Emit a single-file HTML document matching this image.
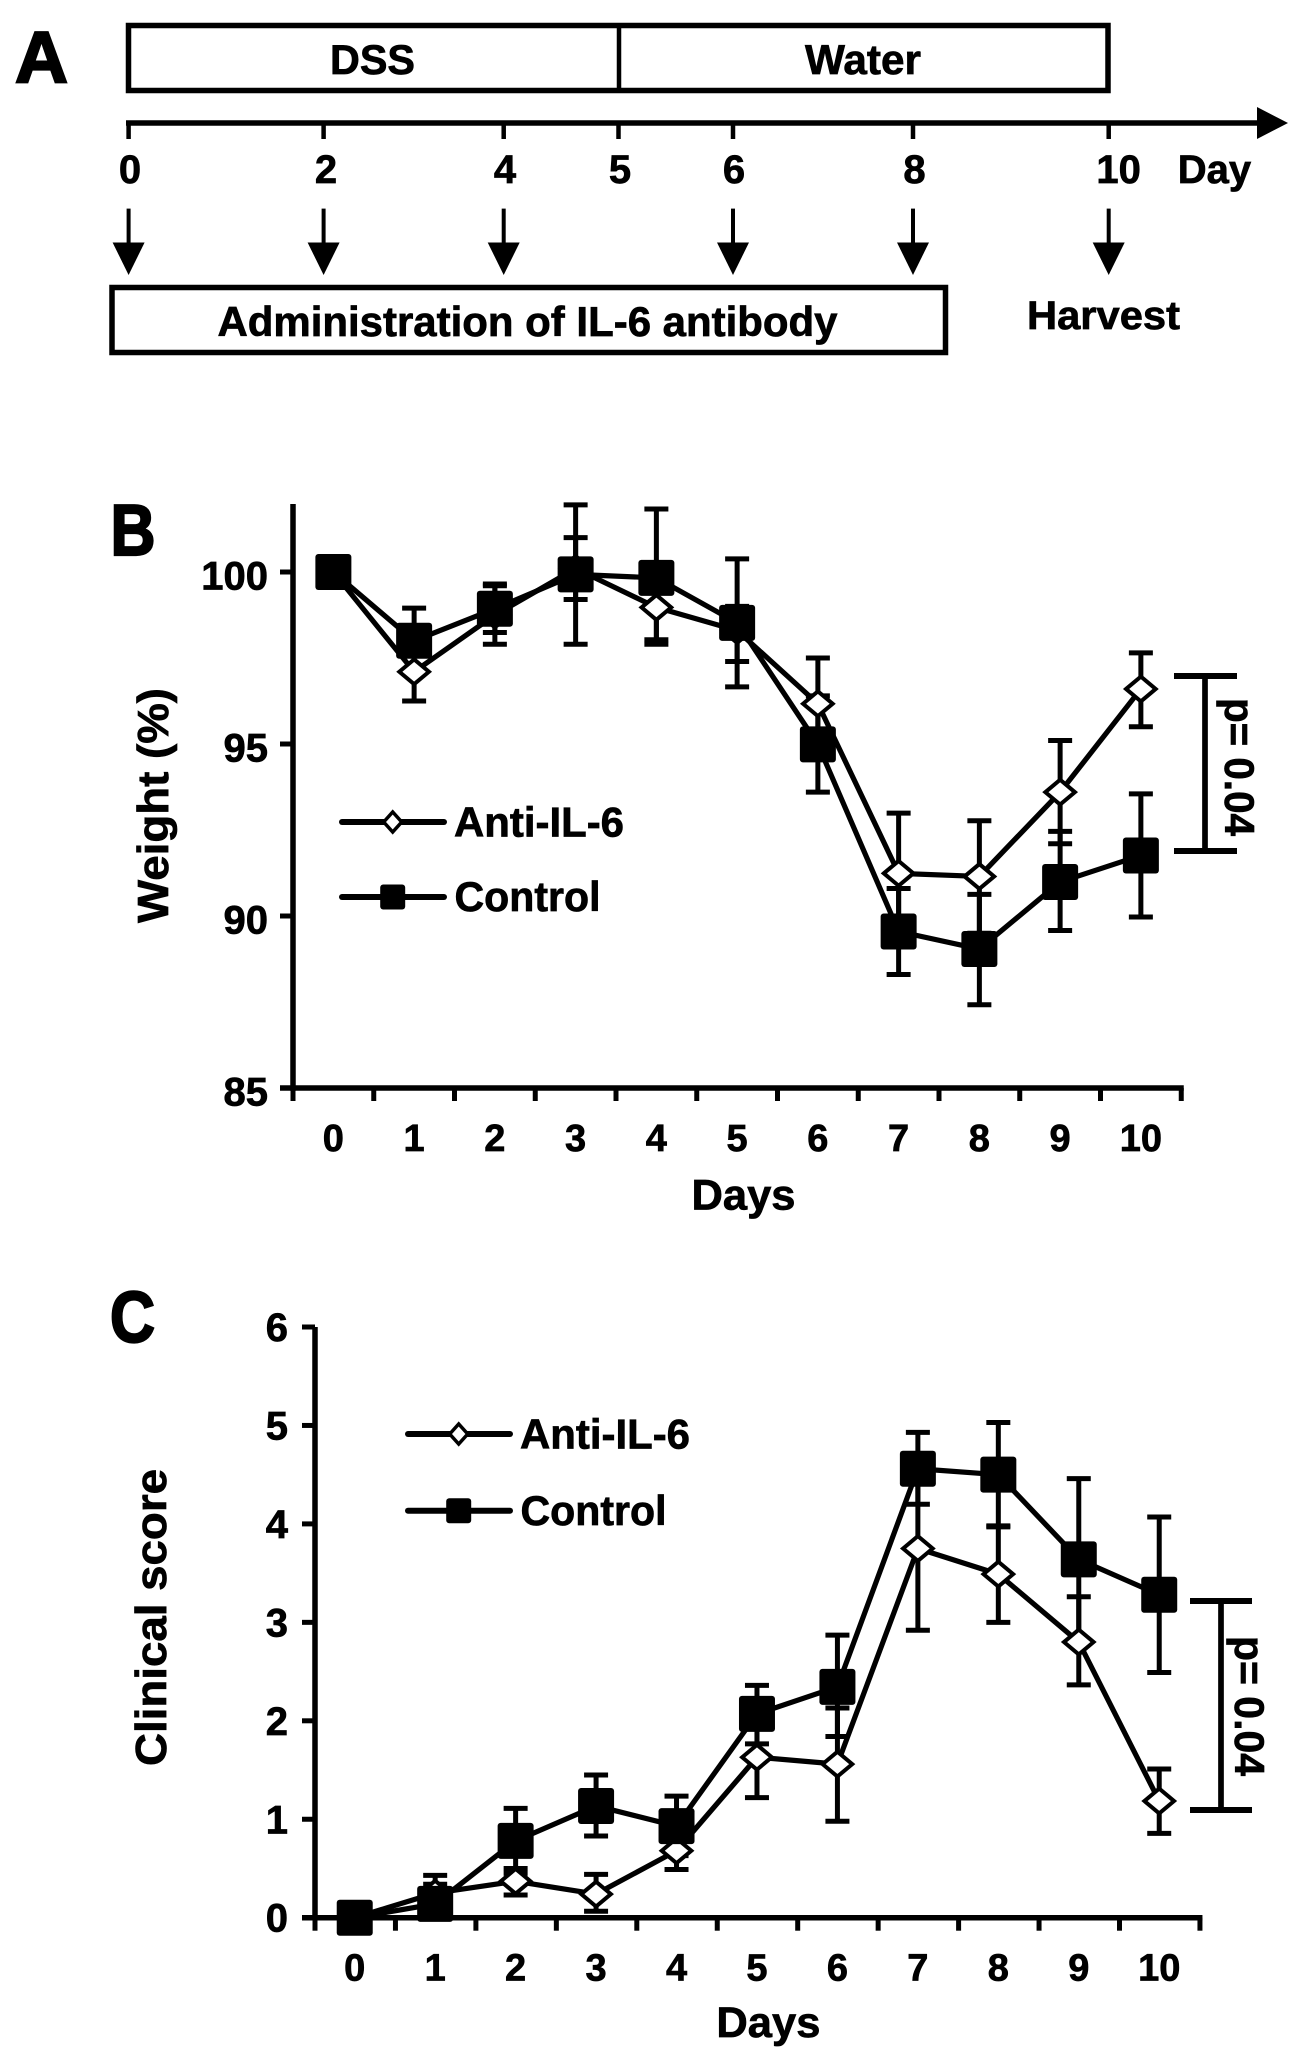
<!DOCTYPE html>
<html>
<head>
<meta charset="utf-8">
<title>IL-6 antibody experiment</title>
<style>
  html, body { margin: 0; padding: 0; background: #fff; }
  svg { display: block; }
  text { font-family: "Liberation Sans", sans-serif; font-weight: bold; fill: #000; stroke: #000; stroke-width: 0.7px; }
  text.letter { stroke-width: 2.2px; }
</style>
</head>
<body>
<svg id="figure" xmlns="http://www.w3.org/2000/svg" width="1301" height="2058" viewBox="0 0 1301 2058">
  <rect x="0" y="0" width="1301" height="2058" fill="#fff"/>

  <g>
    <text class="letter" x="15" y="82" font-size="72" textLength="53" lengthAdjust="spacingAndGlyphs">A</text>
    <rect x="128.5" y="25.5" width="979.5" height="65" fill="#fff" stroke="#000" stroke-width="5.5"/>
    <line x1="619" y1="25" x2="619" y2="90" stroke="#000" stroke-width="4.5"/>
    <text x="330" y="74" font-size="42" textLength="85" lengthAdjust="spacingAndGlyphs">DSS</text>
    <text x="805" y="74" font-size="42" textLength="116" lengthAdjust="spacingAndGlyphs">Water</text>

    <line x1="126" y1="123" x2="1260" y2="123" stroke="#000" stroke-width="5.5"/>
    <polygon points="1257,107 1288,123 1257,139" fill="#000"/>
    <g stroke="#000" stroke-width="4.5">
      <line x1="128.6" y1="123" x2="128.6" y2="139"/>
      <line x1="323.6" y1="123" x2="323.6" y2="139"/>
      <line x1="503.7" y1="123" x2="503.7" y2="139"/>
      <line x1="618.5" y1="123" x2="618.5" y2="139"/>
      <line x1="733" y1="123" x2="733" y2="139"/>
      <line x1="913" y1="123" x2="913" y2="139"/>
      <line x1="1108.7" y1="123" x2="1108.7" y2="139"/>
    </g>
    <g font-size="40" text-anchor="middle">
      <text x="130" y="183">0</text>
      <text x="326" y="183">2</text>
      <text x="505" y="183">4</text>
      <text x="620" y="183">5</text>
      <text x="734" y="183">6</text>
      <text x="914.5" y="183">8</text>
      <text x="1118.6" y="183">10</text>
      <text x="1214.5" y="183">Day</text>
    </g>

    <g>
      <g><line x1="128.6" y1="208.6" x2="128.6" y2="245" stroke="#000" stroke-width="4"/><polygon points="112.6,242.5 144.6,242.5 128.6,275" fill="#000"/></g>
      <g><line x1="323.6" y1="208.6" x2="323.6" y2="245" stroke="#000" stroke-width="4"/><polygon points="307.6,242.5 339.6,242.5 323.6,275" fill="#000"/></g>
      <g><line x1="503.7" y1="208.6" x2="503.7" y2="245" stroke="#000" stroke-width="4"/><polygon points="487.7,242.5 519.7,242.5 503.7,275" fill="#000"/></g>
      <g><line x1="733" y1="208.6" x2="733" y2="245" stroke="#000" stroke-width="4"/><polygon points="717,242.5 749,242.5 733,275" fill="#000"/></g>
      <g><line x1="913" y1="208.6" x2="913" y2="245" stroke="#000" stroke-width="4"/><polygon points="897,242.5 929,242.5 913,275" fill="#000"/></g>
      <g><line x1="1108.7" y1="208.6" x2="1108.7" y2="245" stroke="#000" stroke-width="4"/><polygon points="1092.7,242.5 1124.7,242.5 1108.7,275" fill="#000"/></g>
    </g>

    <rect x="112" y="287.5" width="833.5" height="65" fill="#fff" stroke="#000" stroke-width="5.5"/>
    <text x="217.5" y="336" font-size="42" textLength="620" lengthAdjust="spacingAndGlyphs">Administration of IL-6 antibody</text>
    <text x="1027" y="329" font-size="40" textLength="153" lengthAdjust="spacingAndGlyphs">Harvest</text>
  </g>

  <g id="panel-b"></g>
  <g id="panel-c"></g>
</svg>

<script>
// Shared categories
var days = [0, 1, 2, 3, 4, 5, 6, 7, 8, 9, 10];

// Panel B: weight (%)
var weightTicks = [100, 95, 90, 85];
var weightAnti = [100, 97.1, 98.75, 100.1, 98.97, 98.3, 96.17, 91.24, 91.15, 93.6, 96.6];
var weightAntiUpper = [100, 97.95, 99.6, 101.0, 99.9, 99.0, 97.5, 92.99, 92.77, 95.1, 97.65];
var weightAntiLower = [100, 96.25, 97.9, 99.2, 98.03, 97.4, 94.85, 89.5, 89.5, 92.1, 95.5];
var weightControl = [100, 98.0, 98.93, 99.93, 99.83, 98.52, 94.99, 89.55, 89.04, 90.99, 91.76];
var weightControlUpper = [100, 98.95, 99.65, 101.95, 101.83, 100.38, 96.4, 90.8, 90.63, 92.46, 93.55];
var weightControlLower = [100, 97.05, 98.24, 97.9, 97.9, 96.66, 93.6, 88.3, 87.42, 89.58, 89.97];

// Panel C: clinical score
var scoreTicks = [6, 5, 4, 3, 2, 1, 0];
var scoreAnti = [0, 0.25, 0.37, 0.24, 0.68, 1.63, 1.56, 3.75, 3.49, 2.8, 1.185];
var scoreAntiUpper = [0, 0.43, 0.50, 0.44, 0.87, 2.04, 2.13, 4.57, 3.98, 3.26, 1.51];
var scoreAntiLower = [0, 0.07, 0.23, 0.065, 0.49, 1.22, 0.98, 2.92, 3.0, 2.365, 0.857];
var scoreControl = [0, 0.14, 0.78, 1.135, 0.93, 2.07, 2.345, 4.56, 4.5, 3.64, 3.28];
var scoreControlUpper = [0, 0.34, 1.11, 1.45, 1.235, 2.36, 2.87, 4.93, 5.03, 4.46, 4.07];
var scoreControlLower = [0, 0, 0.45, 0.83, 0.63, 1.765, 1.84, 4.2, 3.97, 2.82, 2.49];

var NS = 'http://www.w3.org/2000/svg';

function make(parent, tag, name, attrs) {
  var el = document.createElementNS(NS, tag);
  
  
  for (var k in attrs) { el.setAttribute(k, attrs[k]); }
  parent.appendChild(el);
  return el;
}
function line(parent, name, x1, y1, x2, y2, w) {
  return make(parent, 'line', name, { x1: x1, y1: y1, x2: x2, y2: y2, stroke: '#000', 'stroke-width': w });
}
function label(parent, name, str, attrs) {
  var el = make(parent, 'text', name, attrs);
  el.textContent = str;
  return el;
}
function diamond(parent, name, cx, cy, hw, hh, sw) {
  return make(parent, 'polygon', name, {
    points: (cx - hw) + ',' + cy + ' ' + cx + ',' + (cy - hh) + ' ' + (cx + hw) + ',' + cy + ' ' + cx + ',' + (cy + hh),
    fill: '#fff', stroke: '#000', 'stroke-width': sw, 'stroke-linejoin': 'miter'
  });
}
function square(parent, name, cx, cy, side) {
  return make(parent, 'rect', name, {
    x: cx - side / 2, y: cy - side / 2, width: side, height: side, rx: 3, fill: '#000'
  });
}
function drawErrorsAndLine(g, key, values, upper, lower, xf, yf) {
  var group = make(g, 'g', 'series-' + key, {});
  days.forEach(function (d, i) {
    if (upper[i] === values[i] && lower[i] === values[i]) { return; }
    var x = xf(d);
    line(group, key + '-error-bar-day-' + d, x, yf(upper[i]), x, yf(lower[i]), 5);
    line(group, key + '-error-cap-upper-day-' + d, x - 12, yf(upper[i]), x + 12, yf(upper[i]), 5);
    line(group, key + '-error-cap-lower-day-' + d, x - 12, yf(lower[i]), x + 12, yf(lower[i]), 5);
  });
  var pts = days.map(function (d, i) { return xf(d) + ',' + yf(values[i]); }).join(' ');
  make(group, 'polyline', key + '-line', {
    points: pts, fill: 'none', stroke: '#000', 'stroke-width': 5.2, 'stroke-linejoin': 'round'
  });
}
function drawPanel(cfg) {
  var g = document.getElementById(cfg.id);
  var axes = make(g, 'g', 'axes', {});
  line(axes, 'y-axis', cfg.axisX, cfg.axisTop, cfg.axisX, cfg.y(cfg.yMin) + 2.7, 5.5);
  line(axes, 'x-axis', cfg.axisX - 13, cfg.y(cfg.yMin), cfg.axisX + 11 * cfg.step + 2.5, cfg.y(cfg.yMin), 5.5);
  cfg.ticks.forEach(function (t) {
    if (t !== cfg.yMin) { line(axes, 'y-tick-' + t, cfg.axisX - 13, cfg.y(t), cfg.axisX, cfg.y(t), 5); }
    label(axes, 'y-tick-label-' + t, String(t), {
      x: cfg.yLabelX, y: cfg.y(t) + cfg.yLabelDy, 'font-size': 40, 'text-anchor': 'end'
    });
  });
  for (var i = 0; i <= 11; i++) {
    var tx = cfg.axisX + i * cfg.step;
    line(axes, 'x-tick-' + i, tx, cfg.y(cfg.yMin), tx, cfg.y(cfg.yMin) + 13, 5);
  }
  days.forEach(function (d) {
    label(axes, 'x-tick-label-' + d, String(d), {
      x: cfg.x(d), y: cfg.xLabelY, 'font-size': 38, 'text-anchor': 'middle'
    });
  });
  label(g, 'x-axis-title', 'Days', {
    x: cfg.xTitleX, y: cfg.xTitleY, 'font-size': 43, textLength: 104, lengthAdjust: 'spacingAndGlyphs'
  });
  label(g, 'y-axis-title', cfg.yTitle, {
    transform: 'translate(' + cfg.yTitleX + ',' + cfg.yTitleStart + ') rotate(-90)',
    'font-size': 44, textLength: cfg.yTitleLen, lengthAdjust: 'spacingAndGlyphs'
  });
  var letter = label(g, 'panel-letter', cfg.letter, {
    x: cfg.letterX, y: cfg.letterY, 'font-size': 72, textLength: 45, lengthAdjust: 'spacingAndGlyphs'
  });
  letter.setAttribute('class', 'letter');

  drawErrorsAndLine(g, 'anti-il-6', cfg.anti, cfg.antiUpper, cfg.antiLower, cfg.x, cfg.y);
  drawErrorsAndLine(g, 'control', cfg.control, cfg.controlUpper, cfg.controlLower, cfg.x, cfg.y);

  var antiMarkers = make(g, 'g', 'anti-il-6-markers', {});
  days.forEach(function (d, i) {
    diamond(antiMarkers, 'anti-il-6-point-day-' + d, cfg.x(d), cfg.y(cfg.anti[i]), 14.8, 12.4, 4);
  });
  var controlMarkers = make(g, 'g', 'control-markers', {});
  days.forEach(function (d, i) {
    square(controlMarkers, 'control-point-day-' + d, cfg.x(d), cfg.y(cfg.control[i]), 36);
  });

  var leg = make(g, 'g', 'legend', {});
  var a = make(leg, 'g', 'legend-entry-anti-il-6', {});
  var la = line(a, 'legend-line-anti-il-6', cfg.legX + 2, cfg.legY1, cfg.legX + 104, cfg.legY1, 6);
  la.setAttribute('stroke-linecap', 'round');
  diamond(a, 'legend-marker-anti-il-6', cfg.legX + 52.7, cfg.legY1, 9, 10, 3.5);
  label(a, 'legend-label-anti-il-6', 'Anti-IL-6', {
    x: cfg.legX + 114, y: cfg.legY1 + 14.5, 'font-size': 42, textLength: 170, lengthAdjust: 'spacingAndGlyphs'
  });
  var c = make(leg, 'g', 'legend-entry-control', {});
  var lc = line(c, 'legend-line-control', cfg.legX + 2, cfg.legY2, cfg.legX + 104, cfg.legY2, 6);
  lc.setAttribute('stroke-linecap', 'round');
  square(c, 'legend-marker-control', cfg.legX + 52.7, cfg.legY2, 25);
  label(c, 'legend-label-control', 'Control', {
    x: cfg.legX + 114.5, y: cfg.legY2 + 14, 'font-size': 42, textLength: 146, lengthAdjust: 'spacingAndGlyphs'
  });

  var br = make(g, 'g', 'significance-bracket', {});
  line(br, 'bracket-cap-top', cfg.brX1, cfg.brTop, cfg.brX2, cfg.brTop, 6);
  line(br, 'bracket-cap-bottom', cfg.brX1, cfg.brBottom, cfg.brX2, cfg.brBottom, 6);
  line(br, 'bracket-stem', cfg.brStem, cfg.brTop, cfg.brStem, cfg.brBottom, 5.7);
  label(br, 'p-value-label', 'p= 0.04', {
    transform: 'translate(' + cfg.pX + ',' + cfg.pY + ') rotate(90)',
    'font-size': 42, textLength: cfg.pLen, lengthAdjust: 'spacingAndGlyphs'
  });
}

drawPanel({
  id: 'panel-b', letter: 'B', letterX: 110.5, letterY: 555,
  axisX: 293, axisTop: 504, step: 80.75, yMin: 85, ticks: weightTicks,
  x: function (d) { return 293 + (d + 0.5) * 80.75; },
  y: function (v) { return 572 + (100 - v) * 34.4; },
  yLabelX: 268, yLabelDy: 17.5, xLabelY: 1151,
  xTitleX: 691.5, xTitleY: 1209.5,
  yTitle: 'Weight (%)', yTitleX: 168, yTitleStart: 923, yTitleLen: 235,
  anti: weightAnti, antiUpper: weightAntiUpper, antiLower: weightAntiLower,
  control: weightControl, controlUpper: weightControlUpper, controlLower: weightControlLower,
  legX: 340, legY1: 822, legY2: 897,
  brX1: 1174, brX2: 1237, brStem: 1205, brTop: 676, brBottom: 851,
  pX: 1225, pY: 698, pLen: 138
});

drawPanel({
  id: 'panel-c', letter: 'C', letterX: 110, letterY: 1342,
  axisX: 315, axisTop: 1327, step: 80.45, yMin: 0, ticks: scoreTicks,
  x: function (d) { return 314.5 + (d + 0.5) * 80.45; },
  y: function (v) { return 1917.7 - v * 98.45; },
  yLabelX: 288, yLabelDy: 14, xLabelY: 1980.7,
  xTitleX: 716.4, xTitleY: 2037,
  yTitle: 'Clinical score', yTitleX: 166, yTitleStart: 1766, yTitleLen: 297,
  anti: scoreAnti, antiUpper: scoreAntiUpper, antiLower: scoreAntiLower,
  control: scoreControl, controlUpper: scoreControlUpper, controlLower: scoreControlLower,
  legX: 406, legY1: 1434, legY2: 1510.8,
  brX1: 1190, brX2: 1252, brStem: 1221, brTop: 1601, brBottom: 1810,
  pX: 1235, pY: 1636, pLen: 140
});
</script>
</body>
</html>
